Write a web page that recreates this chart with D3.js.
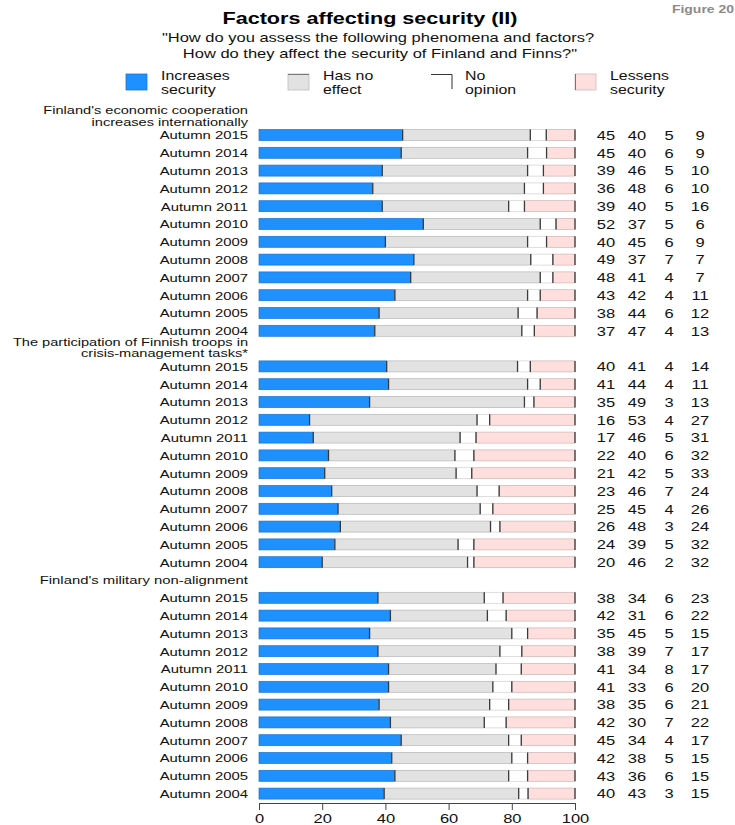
<!DOCTYPE html>
<html><head><meta charset="utf-8">
<script src="https://cdn.jsdelivr.net/npm/d3@7"></script>
<style>
body{margin:0;background:#fff;}
svg{display:block;}
text{font-family:"Liberation Sans",Arial,Helvetica,sans-serif;}
</style>
</head><body>
<svg id="c" width="735" height="825"></svg>
<script>
// ---------- data ----------
const years = ["Autumn 2015","Autumn 2014","Autumn 2013","Autumn 2012","Autumn 2011","Autumn 2010",
               "Autumn 2009","Autumn 2008","Autumn 2007","Autumn 2006","Autumn 2005","Autumn 2004"];
const groupTitles = [
  ["Finland's economic cooperation","increases internationally"],
  ["The participation of Finnish troops in","crisis-management tasks*"],
  ["Finland's military non-alignment"]
];
const categories = ["Increases security","Has no effect","No opinion","Lessens security"];
const legendLines = [["Increases","security"],["Has no","effect"],["No","opinion"],["Lessens","security"]];

const economicIncreases = [45,45,39,36,39,52,40,49,48,43,38,37];
const economicNoEffect  = [40,40,46,48,40,37,45,37,41,42,44,47];
const economicNoOpinion = [5,6,5,6,5,5,6,7,4,4,6,4];
const economicLessens   = [9,9,10,10,16,6,9,7,7,11,12,13];

const troopsIncreases = [40,41,35,16,17,22,21,23,25,26,24,20];
const troopsNoEffect  = [41,44,49,53,46,40,42,46,45,48,39,46];
const troopsNoOpinion = [4,4,3,4,5,6,5,7,4,3,5,2];
const troopsLessens   = [14,11,13,27,31,32,33,24,26,24,32,32];

const alignIncreases = [38,42,35,38,41,41,38,42,45,42,43,40];
const alignNoEffect  = [34,31,45,39,34,33,35,30,34,38,36,43];
const alignNoOpinion = [6,6,5,7,8,6,6,7,4,5,6,3];
const alignLessens   = [23,22,15,17,17,20,21,22,17,15,15,15];

const xTicks = [0,20,40,60,80,100];

const groups = [
  [economicIncreases, economicNoEffect, economicNoOpinion, economicLessens],
  [troopsIncreases, troopsNoEffect, troopsNoOpinion, troopsLessens],
  [alignIncreases, alignNoEffect, alignNoOpinion, alignLessens]
];

// ---------- style ----------
const colors = ["#1E90FF","#E2E2E2","#FFFFFF","#FFDEDE"];
const SX = 1.27;            // horizontal stretch of the reference lettering
const svg = d3.select("#c");

function stext(x, y, str, size, anchor, weight, fill){
  return svg.append("text")
    .attr("transform", `translate(${x},${y}) scale(${SX},1)`)
    .attr("text-anchor", anchor || "start")
    .attr("font-size", size)
    .attr("font-weight", weight || "normal")
    .attr("fill", fill || "#111")
    .text(str);
}

// ---------- scales ----------
const x = d3.scaleLinear().domain([0,100]).range([259,575]);
const rowsPerGroup = years.length + 1;
const nRows = groups.length * rowsPerGroup - 1;
const y = d3.scaleLinear().domain([0, nRows - 1]).range([135, 793.6]);
const barH = 11;

// ---------- title ----------
stext(370, 23.5, "Factors affecting security (II)", 17, "middle", "bold", "#000");
stext(378, 42, "\"How do you assess the following phenomena and factors?", 13, "middle");
stext(380, 58, "How do they affect the security of Finland and Finns?\"", 13, "middle");
stext(734, 13, "Figure 20", 11, "end", "bold", "#8a8a8a");

// ---------- legend ----------
const legX = [126, 288, 431, 575];
const legTextX = [161, 323, 465, 610];
legendLines.forEach((ls, i) => {
  const lx = legX[i];
  if (i === 2) {
    svg.append("path").attr("d", `M${lx},74.5H${lx+21}V89`).attr("fill","none")
      .attr("stroke","#333").attr("stroke-width",1);
  } else {
    svg.append("rect").attr("x", lx).attr("y", 74).attr("width", 21).attr("height", 16)
      .attr("fill", colors[i]).attr("stroke", d3.color(colors[i]).darker(0.5)).attr("stroke-width", 0.8);
    if (i === 1) svg.append("line").attr("x1",lx).attr("x2",lx+21).attr("y1",74.5).attr("y2",74.5).attr("stroke","#777");
    if (i === 3) svg.append("line").attr("x1",lx+0.5).attr("x2",lx+0.5).attr("y1",74).attr("y2",90).attr("stroke","#777");
  }
  stext(legTextX[i], 79.5, ls[0], 12.5);
  stext(legTextX[i], 93.5, ls[1], 12.5);
});

// ---------- bars ----------
const numX = [606, 637, 669, 700];
groups.forEach((series, g) => {
  const base = g * rowsPerGroup;
  const gapY = y(base - 1);
  const lines = groupTitles[g];
  if (lines.length === 2) {
    stext(248, gapY - 3, lines[0], 11.5, "end");
    stext(248, gapY + 8.8, lines[1], 11.5, "end");
  } else {
    stext(248, gapY + 3.5, lines[0], 11.7, "end");
  }
  years.forEach((yr, i) => {
    const cy = y(base + i);
    const vals = series.map(s => s[i]);
    const total = d3.sum(vals);
    let cum = 0;
    const segs = vals.map((v, k) => { const s = {k, v, a: cum/total*100, b: (cum+v)/total*100}; cum += v; return s; });
    const row = svg.append("g");
    row.selectAll("rect").data(segs).join("rect")
      .attr("x", d => x(d.a)).attr("width", d => x(d.b) - x(d.a))
      .attr("y", cy - barH/2).attr("height", barH)
      .attr("fill", d => colors[d.k])
      .attr("stroke", d => d.k === 2 ? "#d0d0d0" : d3.color(colors[d.k]).darker(0.6))
      .attr("stroke-width", 0.7);
    row.selectAll("line").data(segs).join("line")
      .attr("x1", d => x(d.b)).attr("x2", d => x(d.b))
      .attr("y1", cy - barH/2).attr("y2", cy + barH/2)
      .attr("stroke", "#3a3a3a").attr("stroke-width", 1.3);
    stext(248, cy + 4.3, yr, 11.7, "end");
    vals.forEach((v, k) => stext(numX[k], cy + 4.7, String(v), 13, "middle", "normal", "#111"));
  });
});

// ---------- axis ----------
const axis = svg.append("g").attr("transform", "translate(0,803)")
  .call(d3.axisBottom(x).tickValues(xTicks).tickSize(7).tickSizeOuter(0).tickPadding(4));
axis.select(".domain").attr("stroke", "#444");
axis.selectAll(".tick line").attr("stroke", "#444");
axis.selectAll(".tick text").attr("font-size", 13).attr("fill", "#111")
  .attr("font-family", "Liberation Sans, Arial, sans-serif")
  .attr("transform", `scale(${SX},1)`);
</script>
</body></html>
